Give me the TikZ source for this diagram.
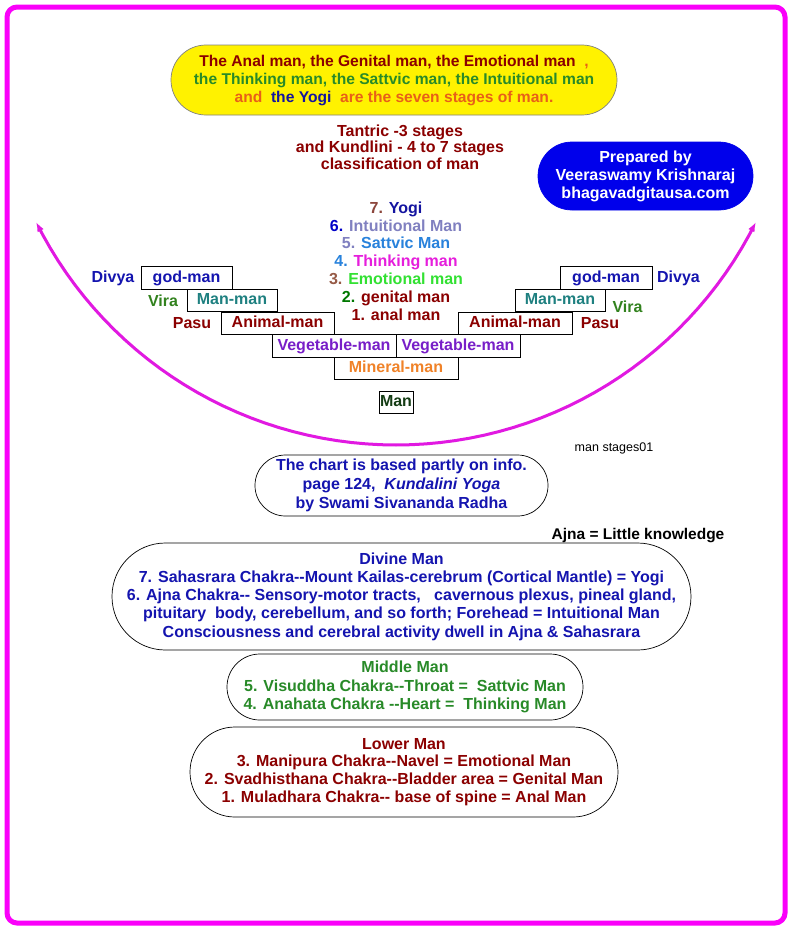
\documentclass[tikz,border=0pt]{standalone}
\usepackage{fontspec}
\setmainfont{Liberation Sans}
\usetikzlibrary{arrows.meta}
\definecolor{bordermag}{RGB}{250,0,250}
\definecolor{arcmag}{RGB}{225,25,225}
\definecolor{tdred}{RGB}{139,0,0}
\definecolor{torange}{RGB}{232,96,24}
\definecolor{tgreen}{RGB}{40,138,40}
\definecolor{tblue}{RGB}{20,20,175}
\definecolor{pillblue}{RGB}{0,0,235}
\definecolor{vira}{RGB}{50,130,30}
\definecolor{teal2}{RGB}{30,128,128}
\definecolor{vegp}{RGB}{120,30,200}
\definecolor{minor}{RGB}{240,130,40}
\definecolor{mandg}{RGB}{20,60,20}
\definecolor{csev}{RGB}{140,70,60}
\definecolor{cyogi}{RGB}{20,20,160}
\definecolor{csix}{RGB}{0,0,200}
\definecolor{cintu}{RGB}{128,128,192}
\definecolor{csatt}{RGB}{40,130,220}
\definecolor{cthink}{RGB}{230,30,220}
\definecolor{cthree}{RGB}{150,90,70}
\definecolor{cemo}{RGB}{50,225,50}
\definecolor{ctwo}{RGB}{0,120,0}
\newcommand{\dhy}{-\kern0pt-}
\begin{document}
\begin{tikzpicture}[x=1pt,y=-1pt,
  every node/.style={font=\bfseries\fontsize{16}{18}\selectfont, inner sep=0pt},
  pill/.style={draw=black, line width=0.7pt, fill=white, align=center, rounded corners=#1},
  stair/.style={draw=black, line width=0.8pt, minimum height=22.5pt, text height=11.5pt, text depth=3.5pt},
  txt/.style={align=center}]
\useasboundingbox (0,0) rectangle (792,930);
\fill[white] (0,0) rectangle (792,930);
\draw[bordermag, line width=5pt, rounded corners=10pt] (7,7) rectangle (785,923);

% top yellow pill
\node[pill=34.9pt, draw=gray, fill=yellow, minimum width=446pt, minimum height=70pt, font=\bfseries\fontsize{15.6}{18}\selectfont] (top) at (394,80)
 {\textcolor{tdred}{The Anal man, the Genital man, the Emotional man}\textcolor{torange}{\ \ ,}\\
  \textcolor{tgreen}{the Thinking man, the Sattvic man, the Intuitional man}\\
  \textcolor{torange}{and} \ \textcolor{cyogi}{the Yogi} \ \textcolor{torange}{are the seven stages of man.}};

% tantric
\node[txt, text=tdred, font=\bfseries\fontsize{16}{16.5}\selectfont] (tantric) at (400,147)
 {Tantric -3 stages\\and Kundlini - 4 to 7 stages\\classification of man};

% prepared by
\node[pill=33.9pt, draw=pillblue, fill=pillblue, text=white, minimum width=215pt, minimum height=68pt] (prep) at (645.5,176)
 {Prepared by\\Veeraswamy Krishnaraj\\bhagavadgitausa.com};

% central stack
\node[txt, font=\bfseries\fontsize{16}{17.8}\selectfont] (stack) at (396,261)
 {\textcolor{csev}{7.} \textcolor{cyogi}{Yogi}\\
  \textcolor{csix}{6.} \textcolor{cintu}{Intuitional Man}\\
  \textcolor{cintu}{5.} \textcolor{csatt}{Sattvic Man}\\
  \textcolor{csatt}{4.} \textcolor{cthink}{Thinking man}\\
  \textcolor{cthree}{3.} \textcolor{cemo}{Emotional man}\\
  \textcolor{ctwo}{2.} \textcolor{tdred}{genital man}\\
  \textcolor{tdred}{1. anal man}};

% staircase left
\node[stair, minimum width=91pt, text=tblue] (godL) at (186.5,278) {god-man};
\node[stair, minimum width=90pt, text=teal2] (manL) at (232,300.5) {Man-man};
\node[stair, minimum width=113pt, text=tdred] (aniL) at (277.5,323.5) {Animal-man};
\node[stair, minimum width=124pt, text=vegp] (vegL) at (334,346) {Vegetable-man};
\node[stair, minimum width=124pt, text=minor] (mineral) at (396,368.5) {Mineral-man};
\node[stair, minimum width=34pt, text=mandg] (man) at (396,402.5) {Man};
% staircase right
\node[stair, minimum width=124pt, text=vegp] (vegR) at (458,346) {Vegetable-man};
\node[stair, minimum width=114pt, text=tdred] (aniR) at (515,323.5) {Animal-man};
\node[stair, minimum width=90pt, text=teal2] (manR) at (560,300.5) {Man-man};
\node[stair, minimum width=92pt, text=tblue] (godR) at (606,278) {god-man};

% side labels
\node[text=tblue] (divyaL) at (113,278) {Divya};
\node[text=vira] (viraL) at (163,300.5) {Vira};
\node[text=tdred] (pasuL) at (192,323.5) {Pasu};
\node[text=tdred] (pasuR) at (600,323.5) {Pasu};
\node[text=vira] (viraR) at (627.5,306.5) {Vira};
\node[text=tblue] (divyaR) at (678.5,278) {Divya};

% big arc
\draw[arcmag, line width=3pt,
  {Latex[length=10pt,width=7pt,fill=magenta!45!black]}-{Latex[length=10pt,width=7pt,fill=magenta!45!black]}]
  plot[domain=153.6:26.4, samples=61] ({396+402*cos(\x)}, {43+402*sin(\x)});

\node[font=\fontsize{12.5}{14}\selectfont] (code) at (614,448) {man stages01};

% chart note
\node[pill=30.4pt, minimum width=293pt, minimum height=61pt, text=tblue, font=\bfseries\fontsize{16}{19}\selectfont] (chart) at (401.5,485.5)
 {The chart is based partly on info.\\page 124,\ \ \textit{Kundalini Yoga}\\by Swami Sivananda Radha};

\node[font=\bfseries\fontsize{15.5}{18}\selectfont] (ajna) at (638,536) {Ajna = Little knowledge};

% divine
\node[pill=53.4pt, minimum width=579pt, minimum height=107pt, text=tblue, font=\bfseries\fontsize{16}{18.2}\selectfont] (divine) at (401.5,596.5)
 {Divine Man\\
  7. Sahasrara Chakra\dhy Mount Kailas-cerebrum (Cortical Mantle) = Yogi\\
  6. Ajna Chakra\dhy\ Sensory-motor tracts,\ \ \ cavernous plexus, pineal gland,\\
  pituitary\ \ body, cerebellum, and so forth; Forehead = Intuitional Man\\
  Consciousness and cerebral activity dwell in Ajna \& Sahasrara};

% middle
\node[pill=32.9pt, minimum width=356pt, minimum height=66pt, text=tgreen, font=\bfseries\fontsize{16}{18.5}\selectfont] (middle) at (405,687)
 {Middle Man\\
  5. Visuddha Chakra\dhy Throat =\ \ Sattvic Man\\
  4. Anahata Chakra \dhy Heart =\ \ Thinking Man};

% lower
\node[pill=44.9pt, minimum width=428pt, minimum height=90pt, text=tdred, font=\bfseries\fontsize{16}{17.8}\selectfont] (lower) at (404,772)
 {Lower Man\\
  3. Manipura Chakra\dhy Navel = Emotional Man\\
  2. Svadhisthana Chakra\dhy Bladder area = Genital Man\\
  1. Muladhara Chakra\dhy\ base of spine = Anal Man};
\end{tikzpicture}
\end{document}
